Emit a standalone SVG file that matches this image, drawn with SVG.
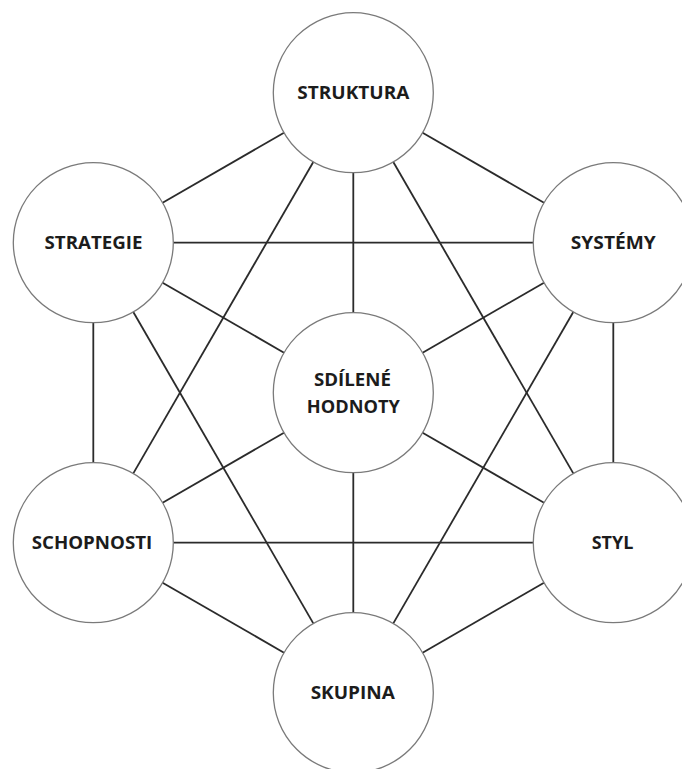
<svg xmlns="http://www.w3.org/2000/svg" width="682" height="769" viewBox="0 0 682 769">
<style>
.bg{fill:#ffffff}
.conn line{stroke:#2b2b2b;stroke-width:1.8;stroke-linecap:butt}
.node circle{fill:#ffffff;stroke:#7a7a7a;stroke-width:1.3}
.node text{font-family:"Open Sans","Liberation Sans",sans-serif;font-weight:700;font-size:18.5px;fill:#1c1c1c;text-anchor:middle}
</style>
<rect class="bg" x="0" y="0" width="682" height="769"/>
<g id="connectors" class="conn">
<line x1="284" y1="132.7" x2="162.6" y2="202.7"/>
<line x1="422.6" y1="132.7" x2="544" y2="202.7"/>
<line x1="353.3" y1="172.7" x2="353.3" y2="312.7"/>
<line x1="313.3" y1="162" x2="133.3" y2="473.4"/>
<line x1="393.3" y1="162" x2="573.3" y2="473.4"/>
<line x1="173.3" y1="242.7" x2="533.3" y2="242.7"/>
<line x1="162.6" y1="282.7" x2="284" y2="352.7"/>
<line x1="93.3" y1="322.7" x2="93.3" y2="462.7"/>
<line x1="133.3" y1="312" x2="313.3" y2="623.4"/>
<line x1="544" y1="282.7" x2="422.6" y2="352.7"/>
<line x1="613.3" y1="322.7" x2="613.3" y2="462.7"/>
<line x1="573.3" y1="312" x2="393.3" y2="623.4"/>
<line x1="284" y1="432.7" x2="162.6" y2="502.7"/>
<line x1="422.6" y1="432.7" x2="544" y2="502.7"/>
<line x1="353.3" y1="472.7" x2="353.3" y2="612.7"/>
<line x1="173.3" y1="542.7" x2="533.3" y2="542.7"/>
<line x1="162.6" y1="582.7" x2="284" y2="652.7"/>
<line x1="544" y1="582.7" x2="422.6" y2="652.7"/>
</g>
<g id="node-struktura" class="node">
<circle cx="353.3" cy="92.7" r="80"/>
<text x="353.3" y="99.4" textLength="112" lengthAdjust="spacingAndGlyphs">STRUKTURA</text>
</g>
<g id="node-strategie" class="node">
<circle cx="93.3" cy="242.7" r="80"/>
<text x="93.5" y="249.4" textLength="98" lengthAdjust="spacingAndGlyphs">STRATEGIE</text>
</g>
<g id="node-systemy" class="node">
<circle cx="613.3" cy="242.7" r="80"/>
<text x="613.3" y="249.4" textLength="85" lengthAdjust="spacingAndGlyphs">SYSTÉMY</text>
</g>
<g id="node-sdilene-hodnoty" class="node">
<circle cx="353.3" cy="392.7" r="80"/>
<text x="352.5" y="386" textLength="77" lengthAdjust="spacingAndGlyphs">SDÍLENÉ</text>
<text x="353.3" y="412.7" textLength="93" lengthAdjust="spacingAndGlyphs">HODNOTY</text>
</g>
<g id="node-schopnosti" class="node">
<circle cx="93.3" cy="542.7" r="80"/>
<text x="92" y="549.4" textLength="120.6" lengthAdjust="spacingAndGlyphs">SCHOPNOSTI</text>
</g>
<g id="node-styl" class="node">
<circle cx="613.3" cy="542.7" r="80"/>
<text x="612.5" y="549.4" textLength="41.7" lengthAdjust="spacingAndGlyphs">STYL</text>
</g>
<g id="node-skupina" class="node">
<circle cx="353.3" cy="692.7" r="80"/>
<text x="352.8" y="699.3" textLength="84.3" lengthAdjust="spacingAndGlyphs">SKUPINA</text>
</g>
</svg>
